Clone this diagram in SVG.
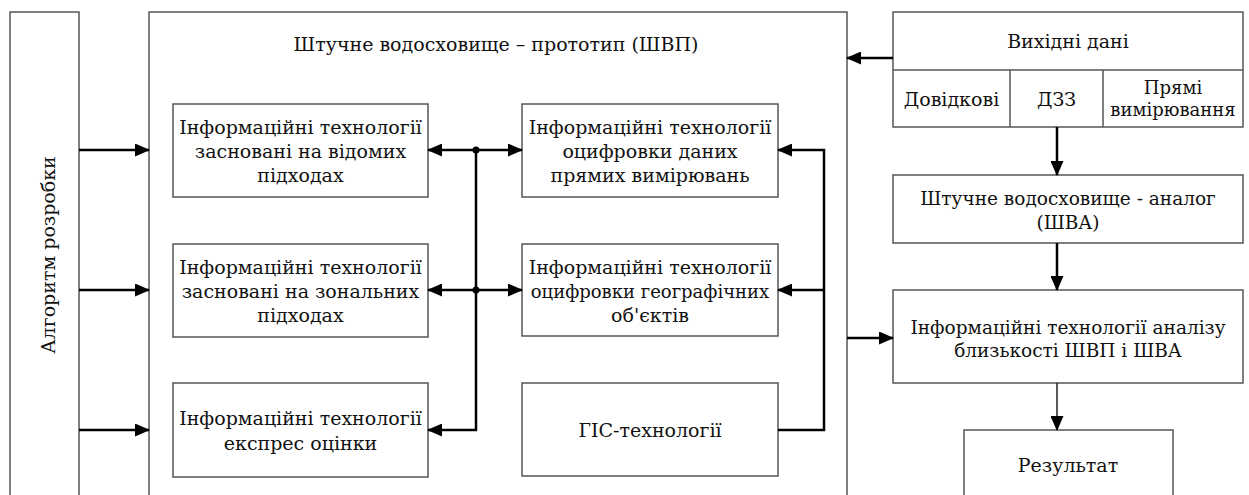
<svg xmlns="http://www.w3.org/2000/svg" width="1249" height="495" viewBox="0 0 1249 495">
<style>
.t text{font-size:19px;fill:#111;text-anchor:middle;dominant-baseline:central}
.t text.s{font-size:18px}
.t text.m{font-size:18.5px}
.box{fill:#fff;stroke:#555;stroke-width:1.5}
.c{fill:none;stroke:#000;stroke-width:2.5}
.thin{fill:none;stroke:#222;stroke-width:1.5}
</style>
<defs>
<marker id="ah" markerUnits="userSpaceOnUse" markerWidth="15" markerHeight="13" viewBox="0 0 15 13" refX="14" refY="6.5" orient="auto">
<path d="M0,0 L15,6.5 L0,13 Z" fill="#000"/>
</marker>
</defs>
<rect width="1249" height="495" fill="#fff"/>
<g class="t" font-family="DejaVu Serif, serif">
<g id="algorithm">
<rect class="box" x="10" y="12" width="69" height="500"/>
<text transform="translate(48,255) rotate(-90)">Алгоритм розробки</text>
</g>
<g id="prototype">
<rect class="box" x="149" y="12" width="698" height="500"/>
<text x="496" y="44">Штучне водосховище – прототип (ШВП)</text>
</g>
<g id="it-known">
<rect class="box" x="173" y="104" width="255" height="93"/>
<text x="300.5" y="127">Інформаційні технології</text>
<text x="300.5" y="151">засновані на відомих</text>
<text x="300.5" y="175">підходах</text>
</g>
<g id="it-zonal">
<rect class="box" x="173" y="244" width="255" height="93"/>
<text x="300.5" y="267">Інформаційні технології</text>
<text x="300.5" y="291">засновані на зональних</text>
<text x="300.5" y="315">підходах</text>
</g>
<g id="it-express">
<rect class="box" x="173" y="383" width="255" height="94"/>
<text x="300.5" y="418">Інформаційні технології</text>
<text x="300.5" y="443">експрес оцінки</text>
</g>
<g id="it-direct">
<rect class="box" x="522" y="104" width="256" height="93"/>
<text x="650" y="127">Інформаційні технології</text>
<text x="650" y="151">оцифровки даних</text>
<text x="650" y="175">прямих вимірювань</text>
</g>
<g id="it-geo">
<rect class="box" x="522" y="244" width="256" height="92"/>
<text x="650" y="267">Інформаційні технології</text>
<text class="s" x="650" y="291">оцифровки географічних</text>
<text x="650" y="315">об'єктів</text>
</g>
<g id="gis">
<rect class="box" x="522" y="383" width="256" height="93"/>
<text x="650" y="430">ГІС-технології</text>
</g>
<g id="source-data">
<rect class="box" x="893" y="12" width="350" height="115"/>
<line class="box" x1="893" y1="70" x2="1243" y2="70"/>
<line class="box" x1="1010" y1="70" x2="1010" y2="127"/>
<line class="box" x1="1103" y1="70" x2="1103" y2="127"/>
<text x="1068" y="41">Вихідні дані</text>
<text x="951.5" y="99">Довідкові</text>
<text x="1056.5" y="99">ДЗЗ</text>
<text class="s" x="1173" y="87">Прямі</text>
<text class="s" x="1173" y="109">вимірювання</text>
</g>
<g id="analog">
<rect class="box" x="893" y="175" width="350" height="68"/>
<text class="m" x="1068" y="198">Штучне водосховище - аналог</text>
<text class="m" x="1068" y="222">(ШВА)</text>
</g>
<g id="analysis">
<rect class="box" x="893" y="290" width="350" height="93"/>
<text class="m" x="1068" y="327">Інформаційні технології аналізу</text>
<text class="m" x="1068" y="350">близькості ШВП і ШВА</text>
</g>
<g id="result">
<rect class="box" x="964" y="430" width="209" height="80"/>
<text x="1068" y="465">Результат</text>
</g>
</g>
<g id="connectors">
<line class="c" x1="79" y1="150" x2="149" y2="150" marker-end="url(#ah)"/>
<line class="c" x1="79" y1="290" x2="149" y2="290" marker-end="url(#ah)"/>
<line class="c" x1="79" y1="430" x2="149" y2="430" marker-end="url(#ah)"/>
<polyline class="c" points="476,150 476,430 428,430" marker-end="url(#ah)"/>
<line class="c" x1="476" y1="150" x2="428" y2="150" marker-end="url(#ah)"/>
<line class="c" x1="476" y1="150" x2="522" y2="150" marker-end="url(#ah)"/>
<line class="c" x1="476" y1="290" x2="428" y2="290" marker-end="url(#ah)"/>
<line class="c" x1="476" y1="290" x2="522" y2="290" marker-end="url(#ah)"/>
<circle cx="476" cy="150" r="3.5" fill="#000"/>
<circle cx="476" cy="290" r="3.5" fill="#000"/>
<polyline class="c" points="778,430 824,430 824,150 778,150" marker-end="url(#ah)"/>
<line class="c" x1="824" y1="290" x2="778" y2="290" marker-end="url(#ah)"/>
<line class="c" x1="893" y1="58" x2="847" y2="58" marker-end="url(#ah)"/>
<line class="c" x1="1057" y1="127" x2="1057" y2="175" marker-end="url(#ah)"/>
<line class="c" x1="1057" y1="243" x2="1057" y2="290" marker-end="url(#ah)"/>
<line class="c" x1="847" y1="338" x2="893" y2="338" marker-end="url(#ah)"/>
<line class="thin" x1="1057" y1="383" x2="1057" y2="430" marker-end="url(#ah)"/>
</g>
</svg>
